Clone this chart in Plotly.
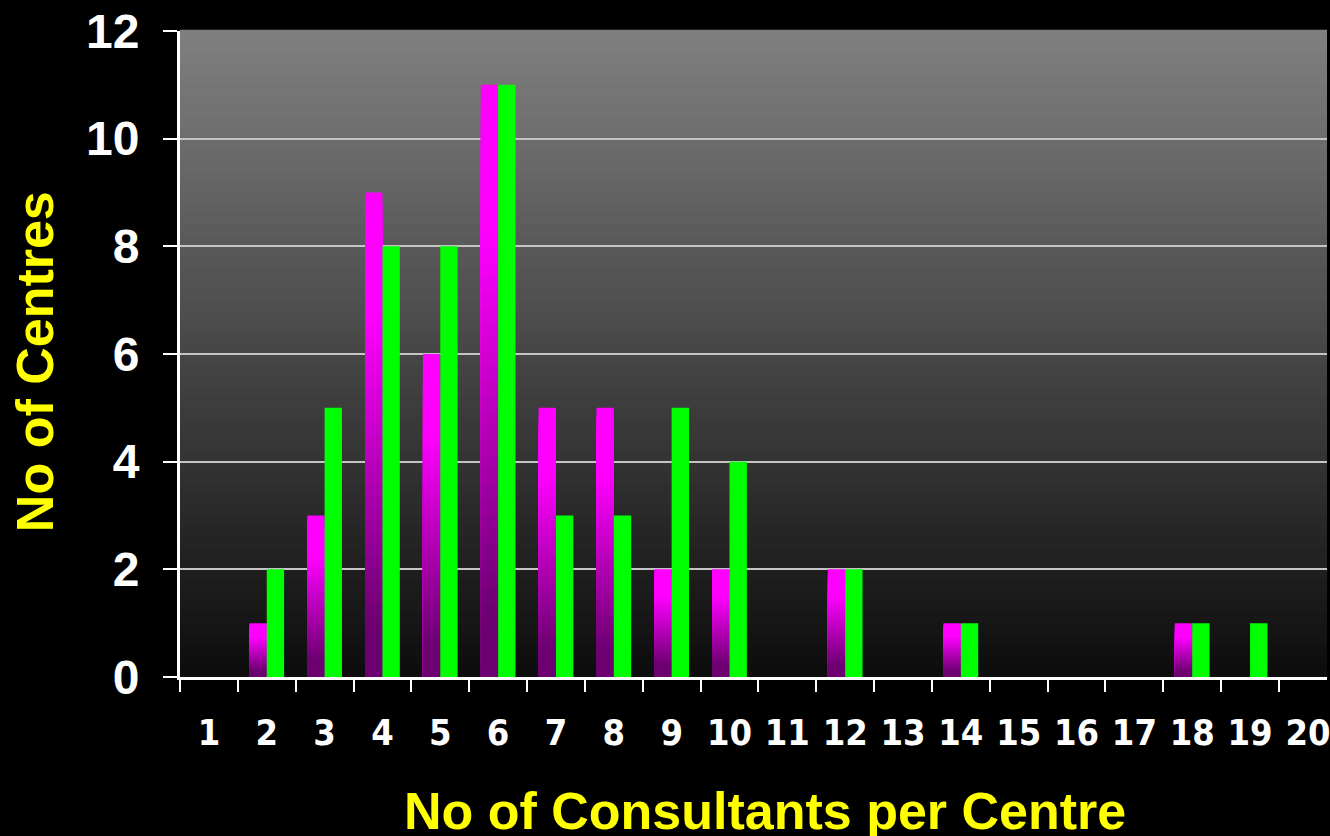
import plotly.graph_objects as go

# data
categories = [str(i) for i in range(1, 21)]
series_a = [0, 1, 3, 9, 6, 11, 5, 5, 2, 2, 0, 2, 0, 1, 0, 0, 0, 1, 0, 0]   # magenta
series_b = [0, 2, 5, 8, 8, 11, 3, 3, 5, 4, 0, 2, 0, 1, 0, 0, 0, 1, 1, 0]   # green
y_ticks = [0, 2, 4, 6, 8, 10, 12]


def mix(c0, c1, t):
    return "rgb(%d,%d,%d)" % tuple(round(a + (b - a) * t) for a, b in zip(c0, c1))


fig = go.Figure()

# magenta bars: nested bars from the top colour down to the dark base give
# the per-bar vertical gradient without seams
n_slices = 40
dark, bright = (108, 0, 112), (255, 0, 255)
for k in reversed(range(n_slices)):
    t = (k + 0.5) / n_slices
    u = min(max((t - 0.1) / 0.65, 0), 1)
    fig.add_trace(go.Bar(
        x=categories,
        y=[v * (k + 1) / n_slices for v in series_a],
        offsetgroup="a",
        marker=dict(color=mix(dark, bright, u), line=dict(width=0)),
        showlegend=False, hoverinfo="skip",
    ))

fig.add_trace(go.Bar(
    x=categories, y=series_b, offsetgroup="b",
    marker=dict(color="#00ff00", line=dict(width=0)),
    showlegend=False,
))

# plot-area background gradient (grey at top, near black at bottom)
n_bands = 60
shapes = []
for k in range(n_bands):
    t = (k + 0.5) / n_bands
    shapes.append(dict(
        type="rect", xref="paper", yref="paper", layer="below",
        x0=0, x1=1, y0=k / n_bands, y1=(k + 1) / n_bands + 0.002,
        fillcolor=mix((12, 12, 12), (128, 128, 128), t), line=dict(width=0),
    ))

fig.update_layout(
    width=1330, height=836,
    margin=dict(l=180, r=0, t=31, b=159),
    paper_bgcolor="black", plot_bgcolor="black",
    barmode="group", bargap=0.4, bargroupgap=0,
    shapes=shapes,
    annotations=[
        dict(text="No of Centres", xref="paper", yref="paper",
             x=(34 - 180) / 1150, y=0.488, textangle=-90,
             xanchor="center", yanchor="middle", showarrow=False,
             font=dict(family="Liberation Sans", size=52, color="#ffff00", weight="bold")),
        dict(text="No of Consultants per Centre", xref="paper", yref="paper",
             x=0.51, y=-0.207, xanchor="center", yanchor="middle", showarrow=False,
             font=dict(family="Liberation Sans", size=52, color="#ffff00", weight="bold")),
    ],
)

fig.update_xaxes(
    type="category", range=[-0.5, 19.33],
    tickson="boundaries", ticks="outside", ticklen=12, tickwidth=2, tickcolor="white",
    showline=True, linecolor="white", linewidth=3,
    showgrid=False, ticklabelstandoff=22,
    tickfont=dict(family="Liberation Sans Narrow, DejaVu Sans Condensed, Liberation Sans",
                  size=36, color="white", weight="bold"),
)
fig.update_yaxes(
    range=[0, 12], tickvals=y_ticks,
    ticks="outside", ticklen=14, tickwidth=2, tickcolor="white",
    showline=True, linecolor="white", linewidth=3,
    showgrid=True, gridcolor="#c4c4c4", gridwidth=2, zeroline=False,
    ticklabelstandoff=14,
    tickfont=dict(family="Liberation Sans", size=48, color="white", weight="bold"),
)

fig.write_html(
    "out.html",
    config={"displayModeBar": False},
    post_script="document.body.style.margin='0';document.body.style.background='black';",
)
